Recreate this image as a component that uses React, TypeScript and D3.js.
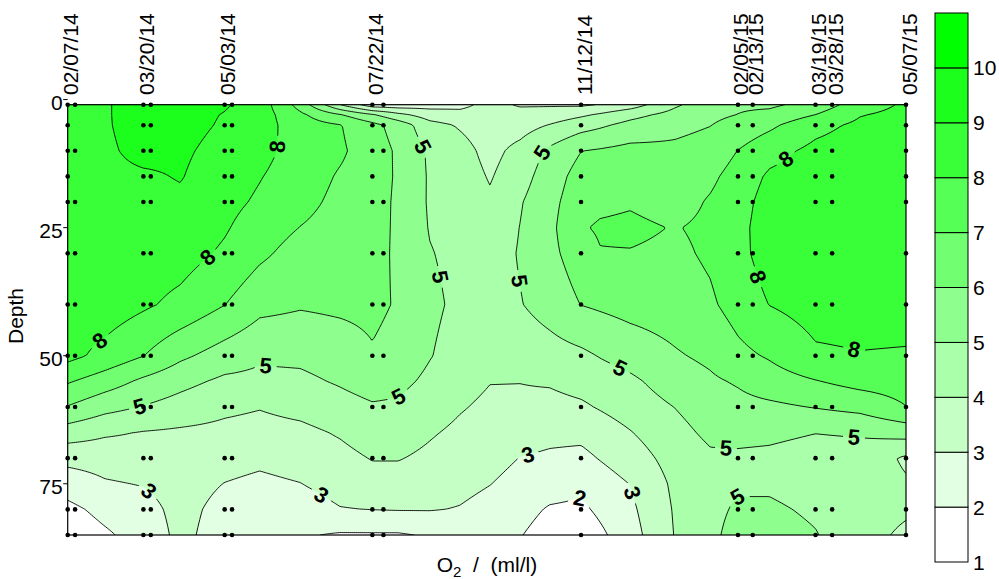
import React, { useMemo } from "react";
import * as d3 from "d3";

const WIDTH = 999;
const HEIGHT = 579;
const FONT = "'Liberation Sans', Arial, Helvetica, sans-serif";

// ---------- data ----------
const stationLabels = ["02/07/14", "03/20/14", "05/03/14", "07/22/14", "11/12/14", "02/05/15", "02/13/15", "03/19/15", "03/28/15", "05/07/15"];

// sample casts (black dots) and the depths sampled
const castDates = ["02/07/14", "02/11/14", "03/20/14", "03/24/14", "05/03/14", "05/07/14", "07/22/14", "07/28/14", "11/12/14", "02/05/15", "02/13/15", "03/19/15", "03/28/15", "05/07/15"];
const sampleDepths = [1, 5, 10, 15, 20, 30, 40, 50, 60, 70, 80, 85];
const castMissingDepths = [[], [5, 15], [], [], [], [], [], [15], [], [], [], [], [], []];

// gridded O2 field (ml/l): columns at days since 02/07/14, rows at depths
const gridDays = [0, 20, 41, 61, 85, 104, 126, 147.5, 165, 179, 196, 212.5, 228.7, 245, 261, 278, 288.3, 304.6, 329, 348, 363, 380, 405, 429, 454];
const gridDepths = [1, 3, 5, 10, 15, 20, 25, 30, 40, 50, 55, 60, 65, 70, 75, 80, 85];
const o2Columns = [
  [8.8, 8.8, 8.8, 8.8, 8.75, 8.7, 8.65, 8.6, 8.5, 8.3, 7.1, 5.95, 4.5, 3.3, 2.45, 1.75, 1.35],
  [8.9, 8.9, 8.9, 8.85, 8.8, 8.75, 8.7, 8.65, 8.55, 7.7, 6.5, 5.33, 4.14, 3.4, 2.9, 2.28, 1.85],
  [9.45, 9.45, 9.4, 9.25, 8.88, 8.75, 8.62, 8.5, 8.15, 7.02, 5.8, 4.95, 3.95, 3.55, 3.05, 2.65, 2.4],
  [9.35, 9.35, 9.3, 9.15, 9.05, 8.85, 8.62, 8.4, 7.75, 6.2, 5.3, 4.6, 3.85, 3.55, 3.4, 3.3, 3.25],
  [9.1, 8.95, 8.9, 8.7, 8.5, 8.3, 8.1, 7.85, 7.02, 5.55, 4.8, 4.2, 3.75, 3.35, 2.98, 2.7, 2.55],
  [8.55, 8.5, 8.45, 8.3, 8.05, 7.85, 7.5, 7.2, 6.3, 5.15, 4.75, 4.05, 3.65, 3.2, 2.8, 2.5, 2.3],
  [6.6, 7.2, 7.45, 7.6, 7.5, 7.3, 6.98, 6.6, 6.1, 5.2, 4.8, 4.3, 3.75, 3.4, 2.98, 2.5, 2.1],
  [4.02, 6.1, 7.05, 7.15, 6.9, 6.75, 6.62, 6.5, 6.2, 5.45, 5.1, 4.65, 4.1, 3.7, 3.4, 2.95, 1.9],
  [2.4, 5.15, 6.3, 6.5, 6.55, 6.5, 6.45, 6.4, 6.25, 5.9, 5.4, 4.9, 4.5, 4.05, 3.6, 3.02, 1.9],
  [2.4, 4.3, 5.6, 5.85, 5.85, 5.8, 5.8, 5.8, 5.9, 5.6, 5.25, 4.85, 4.45, 4.05, 3.6, 3.05, 1.9],
  [2.6, 3.55, 4.35, 4.85, 4.9, 4.9, 4.95, 5.05, 5.2, 5.05, 4.8, 4.45, 4.1, 3.8, 3.5, 3.05, 2.1],
  [2.75, 3.3, 3.9, 4.35, 4.5, 4.6, 4.68, 4.75, 4.8, 4.6, 4.35, 4.08, 3.8, 3.5, 3.25, 2.95, 2.5],
  [3.3, 3.4, 3.5, 3.7, 3.92, 4.15, 4.35, 4.5, 4.6, 4.4, 4.03, 3.8, 3.55, 3.3, 3.02, 2.7, 2.4],
  [2.9, 3.35, 3.6, 4.3, 4.6, 4.92, 5.02, 5.08, 4.95, 4.4, 4.02, 3.8, 3.4, 2.98, 2.7, 2.35, 2.05],
  [2.9, 3.45, 4.05, 5.2, 5.5, 5.7, 5.75, 5.75, 5.4, 4.6, 4.1, 3.7, 3.25, 2.85, 2.45, 1.9, 1.55],
  [2.85, 3.85, 4.6, 5.98, 6.4, 6.6, 6.9, 6.5, 6.02, 4.8, 4.35, 3.85, 3.25, 2.75, 2.25, 1.8, 1.3],
  [3.05, 4.15, 4.85, 6.1, 6.5, 6.78, 7.12, 6.95, 6.15, 5.05, 4.5, 4.08, 3.5, 3.05, 2.55, 2.2, 1.8],
  [3.5, 4.7, 5.3, 6.3, 6.6, 6.9, 7.2, 6.95, 6.35, 5.4, 4.8, 4.45, 3.95, 3.5, 3.02, 2.8, 2.6],
  [4.85, 5.35, 5.75, 6.2, 6.5, 6.6, 6.95, 6.8, 6.5, 5.9, 5.5, 5.02, 4.7, 4.4, 4.2, 4.1, 4.05],
  [5.6, 5.8, 5.98, 6.4, 6.8, 7.1, 7.2, 7.15, 6.85, 6.2, 5.85, 5.5, 5.2, 4.85, 4.7, 4.7, 4.75],
  [5.85, 6.02, 6.35, 7.02, 7.4, 7.6, 7.7, 7.7, 7.4, 6.75, 6.1, 5.7, 5.25, 4.85, 4.85, 5.15, 5.4],
  [5.8, 6.3, 6.8, 7.65, 8.15, 8.4, 8.5, 8.45, 8.02, 7.1, 6.55, 5.8, 5.2, 4.8, 4.85, 5.15, 5.4],
  [6.4, 7.02, 7.7, 8.25, 8.5, 8.6, 8.65, 8.6, 8.4, 7.85, 6.95, 6.05, 5.02, 4.6, 4.6, 4.85, 5.05],
  [7.5, 7.95, 8.2, 8.5, 8.6, 8.65, 8.7, 8.65, 8.45, 7.95, 7.35, 6.3, 5.1, 4.6, 4.5, 4.45, 4.4],
  [8.15, 8.3, 8.45, 8.55, 8.6, 8.65, 8.65, 8.65, 8.45, 7.9, 7.45, 6.98, 5.4, 3.85, 4.1, 4.15, 3.8],
];

const contourLevels = [2, 3, 4, 5, 6, 7, 8, 9, 10];
const colorBarLevels = [1, 2, 3, 4, 5, 6, 7, 8, 9, 10, 11];
const colorBarLabels = ["1", "2", "3", "4", "5", "6", "7", "8", "9", "10"];
const depthTicks = [0, 25, 50, 75];

// contour labels: level and approximate (day, depth) anchor
const labelLevels = [8, 8, 8, 8, 8, 8, 5, 5, 5, 5, 5, 5, 5, 5, 5, 5, 5, 3, 3, 3, 3, 2];
const labelDays = [113, 76, 19, 387, 373, 426, 39, 108, 179, 195, 202, 257, 243, 299, 357, 426, 361.5, 42.4, 136.7, 249, 305.6, 278.5];
const labelDepths = [9.2, 30.8, 47.8, 10.7, 34.7, 48.7, 59.8, 51, 58, 8.8, 34.5, 10.3, 35.5, 52, 67.6, 65.9, 77.4, 77.2, 77.4, 68.6, 77, 76.6];

// ---------- helpers ----------
function bandColor(k: number) {
  const v = Math.round((255 * (10 - k)) / 9);
  return `rgb(${v},255,${v})`;
}

function locate(arr: number[], v: number): [number, number] {
  let i = d3.bisectRight(arr, v) - 1;
  i = Math.max(0, Math.min(arr.length - 2, i));
  const t = (v - arr[i]) / (arr[i + 1] - arr[i]);
  return [i, Math.max(0, Math.min(1, t))];
}

export default function App() {
  const m = useMemo(() => {
    const parse = d3.utcParse("%m/%d/%y");
    const base = parse(stationLabels[0]) as Date;
    const dayOf = (s: string) => d3.utcDay.count(base, parse(s) as Date);
    const lastDay = dayOf(stationLabels[stationLabels.length - 1]);

    const x = d3.scaleLinear().domain([0, lastDay]).range([67.7, 906]);
    const y = d3.scaleLinear().domain([1, 85]).range([104.7, 535]);
    const X0 = x(0), X1 = x(lastDay), Y0 = y(1), Y1 = y(85);

    const NX = 420, NY = 216;
    const values: number[] = new Array(NX * NY);
    for (let j = 0; j < NY; j++) {
      const depth = 1 + (j * 84) / (NY - 1);
      const [r, ty] = locate(gridDepths, depth);
      for (let i = 0; i < NX; i++) {
        const day = (i * lastDay) / (NX - 1);
        const [c, tx] = locate(gridDays, day);
        const v =
          (1 - tx) * (1 - ty) * o2Columns[c][r] +
          tx * (1 - ty) * o2Columns[c + 1][r] +
          (1 - tx) * ty * o2Columns[c][r + 1] +
          tx * ty * o2Columns[c + 1][r + 1];
        values[j * NX + i] = v;
      }
    }
    const gx = (g: number) => X0 + ((g - 0.5) * (X1 - X0)) / (NX - 1);
    const gy = (g: number) => Y0 + ((g - 0.5) * (Y1 - Y0)) / (NY - 1);

    const contours = d3.contours().size([NX, NY]).thresholds(contourLevels)(values);
    const toPath = (mp: any) =>
      mp.coordinates
        .map((poly: number[][][]) =>
          poly
            .map((ring) => "M" + ring.map(([a, b]) => `${gx(a).toFixed(2)},${gy(b).toFixed(2)}`).join("L") + "Z")
            .join("")
        )
        .join("");
    const paths = contours.map((c: any) => ({ level: c.value as number, d: toPath(c) }));

    // labels
    const labels = labelLevels.map((lv, k) => {
      const ax = x(labelDays[k]);
      const ay = y(labelDepths[k]);
      const cont: any = contours.find((c: any) => c.value === lv);
      let best = { d: Infinity, px: ax, py: ay, ang: 0 };
      if (cont) {
        for (const poly of cont.coordinates) {
          for (const ring of poly) {
            const n = ring.length;
            for (let q = 0; q < n; q++) {
              const [a, b] = ring[q];
              if (a <= 0.6 || a >= NX - 0.6 || b <= 0.6 || b >= NY - 0.6) continue;
              const px = gx(a), py = gy(b);
              const dd = (px - ax) ** 2 + (py - ay) ** 2;
              if (dd < best.d) {
                const p0 = ring[(q - 3 + n) % n];
                const p1 = ring[(q + 3) % n];
                let ang = (Math.atan2(gy(p1[1]) - gy(p0[1]), gx(p1[0]) - gx(p0[0])) * 180) / Math.PI;
                if (ang > 90) ang -= 180;
                if (ang < -90) ang += 180;
                best = { d: dd, px, py, ang };
              }
            }
          }
        }
      }
      return { text: String(lv), x: best.px, y: best.py, ang: best.ang };
    });

    const dots: { x: number; y: number }[] = [];
    castDates.forEach((cd, ci) => {
      const dx = x(dayOf(cd));
      sampleDepths.forEach((z) => {
        if (castMissingDepths[ci].includes(z)) return;
        dots.push({ x: dx, y: y(z) });
      });
    });

    const stations = stationLabels.map((s) => ({ label: s, x: x(dayOf(s)) }));

    const cbTop = 13, cbBottom = 562, cbX = 935, cbW = 33;
    const cbScale = d3.scaleLinear().domain([1, 11]).range([cbBottom, cbTop]);

    return { x, y, X0, X1, Y0, Y1, paths, labels, dots, stations, cbScale, cbX, cbW };
  }, []);

  const { y, X0, X1, Y0, Y1, paths, labels, dots, stations, cbScale, cbX, cbW } = m;

  return (
    <svg
      width={WIDTH}
      height={HEIGHT}
      viewBox={`0 0 ${WIDTH} ${HEIGHT}`}
      style={{ position: "absolute", left: 0, top: 0, background: "#fff" }}
      fontFamily={FONT}
    >
      <defs>
        <clipPath id="plotClip">
          <rect x={X0} y={Y0} width={X1 - X0} height={Y1 - Y0} />
        </clipPath>
        <mask id="labelMask" maskUnits="userSpaceOnUse" x={0} y={0} width={WIDTH} height={HEIGHT}>
          <rect x={0} y={0} width={WIDTH} height={HEIGHT} fill="#fff" />
          {labels.map((l, i) => (
            <rect key={i} x={-11} y={-8} width={22} height={16} fill="#000" transform={`translate(${l.x},${l.y}) rotate(${l.ang})`} />
          ))}
        </mask>
      </defs>

      <rect x={0} y={0} width={WIDTH} height={HEIGHT} fill="#fff" />

      {/* filled contour bands */}
      <g clipPath="url(#plotClip)">
        <rect x={X0} y={Y0} width={X1 - X0} height={Y1 - Y0} fill={bandColor(1)} />
        {paths.map((p) => (
          <path key={"f" + p.level} d={p.d} fill={bandColor(p.level)} fillRule="evenodd" stroke="none" />
        ))}
        <g mask="url(#labelMask)">
          {paths.map((p) => (
            <path key={"l" + p.level} d={p.d} fill="none" stroke="#000" strokeWidth={0.9} strokeLinejoin="round" />
          ))}
        </g>
      </g>

      {/* contour labels */}
      {labels.map((l, i) => (
        <text
          key={i}
          transform={`translate(${l.x},${l.y}) rotate(${l.ang})`}
          textAnchor="middle"
          dominantBaseline="central"
          fontSize={22}
          fontWeight="bold"
          fill="#000"
        >
          {l.text}
        </text>
      ))}

      {/* frame */}
      <rect x={X0} y={Y0} width={X1 - X0} height={Y1 - Y0} fill="none" stroke="#000" strokeWidth={1.2} />

      {/* depth axis */}
      {depthTicks.map((t) => (
        <g key={t}>
          <line x1={X0 - 4.5} x2={X0} y1={y(t)} y2={y(t)} stroke="#000" strokeWidth={1} />
          <text x={X0 - 5} y={y(t) + 10} textAnchor="end" fontSize={21} fill="#000">
            {t}
          </text>
        </g>
      ))}
      <text transform={`translate(22.5,316) rotate(-90)`} textAnchor="middle" fontSize={21} fill="#000">
        Depth
      </text>

      {/* station date labels */}
      {stations.map((s) => (
        <text key={s.label} transform={`translate(${s.x + 10.5},95) rotate(-90)`} textAnchor="start" fontSize={21} fill="#000">
          {s.label}
        </text>
      ))}

      {/* sample dots */}
      {dots.map((d, i) => (
        <circle key={i} cx={d.x} cy={d.y} r={2.3} fill="#000" />
      ))}

      {/* x title */}
      <text x={487} y={572} textAnchor="middle" fontSize={21} fill="#000" style={{ whiteSpace: "pre" }}>
        <tspan>O</tspan>
        <tspan dy={5} fontSize={15}>2</tspan>
        <tspan dy={-5}>{"  /  (ml/l)"}</tspan>
      </text>

      {/* color bar */}
      <g>
        {colorBarLevels.slice(0, -1).map((lv) => (
          <rect
            key={lv}
            x={cbX}
            y={cbScale(lv + 1)}
            width={cbW}
            height={cbScale(lv) - cbScale(lv + 1)}
            fill={bandColor(lv)}
            stroke="#000"
            strokeWidth={1}
          />
        ))}
        {colorBarLabels.map((t, i) => (
          <text key={t} x={cbX + cbW + 5} y={cbScale(colorBarLevels[i]) + 7.5} fontSize={21} fill="#000">
            {t}
          </text>
        ))}
      </g>
    </svg>
  );
}
